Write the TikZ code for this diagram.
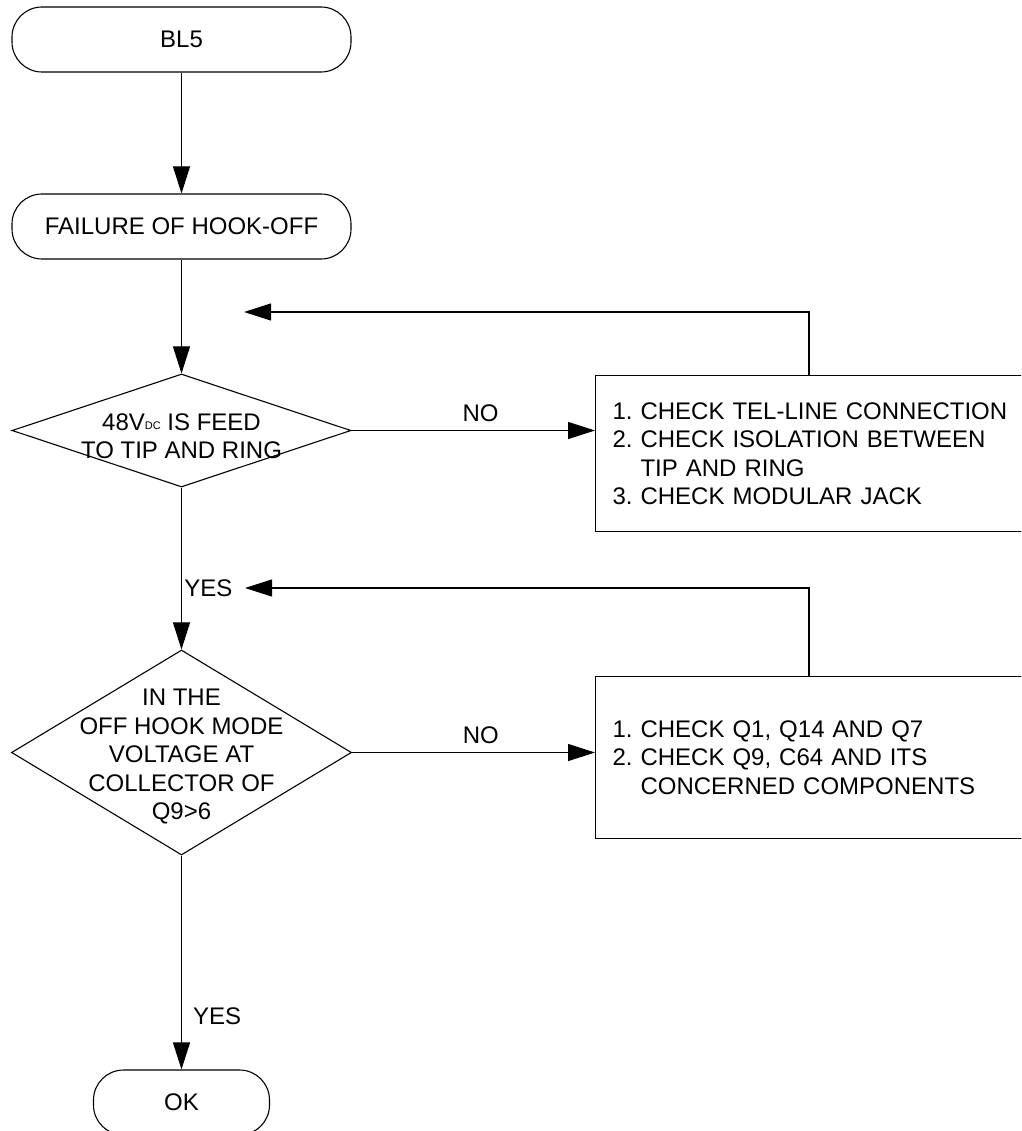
\documentclass[tikz,border=0pt]{standalone}
\usepackage{fontspec}
\setmainfont{Liberation Sans}
\frenchspacing
\usetikzlibrary{positioning,shapes.geometric,arrows.meta}

\begin{document}
\begin{tikzpicture}[x=1pt,y=-1pt,line width=1.1pt,
    every node/.style={font=\fontsize{24}{28.5}\selectfont},
    term/.style={draw,rounded corners=30pt,minimum width=339pt,minimum height=65pt,inner sep=0pt},
    decision/.style={draw,diamond,inner sep=0pt},
    checkbox/.style={draw,anchor=north west,align=left,text width=420pt,inner xsep=17pt,inner ysep=0pt},
    lbl/.style={inner sep=2pt},
    arr/.style={-{Triangle[length=27pt,width=17pt]}}]

    \useasboundingbox (0,0) rectangle (1021,1131);
    \clip (0,0) rectangle (1021,1131);

        % main column
        \node[term] (bl5) at (181.5,39.5) {BL5};
        \node[term] (fail) at (181.5,226.5) {FAILURE OF HOOK-OFF};
        \node[decision,minimum width=339pt,minimum height=113pt] (d1) at (181.5,430.5) {};
        \node[align=center] (q1) at (181.5,436) {48V\raisebox{1pt}{\fontsize{11}{11}\selectfont DC} IS FEED\\TO TIP AND RING};
        \node[decision,minimum width=340pt,minimum height=205pt] (d2) at (181.5,752.5) {};
        \node[align=center] (q2) at (181.5,757) {IN THE\\OFF HOOK MODE\\VOLTAGE AT\\COLLECTOR OF\\Q9>6};
        \node[term,minimum width=176pt] (ok) at (181.5,1102.5) {OK};

        % check boxes
        \node[checkbox,minimum height=156pt] (box1) at (595,375) {1. CHECK TEL-LINE CONNECTION\\2. CHECK ISOLATION BETWEEN\\\phantom{2. }TIP AND RING\\3. CHECK MODULAR JACK};
        \node[checkbox,minimum height=162pt] (box2) at (595,676) {1. CHECK Q1, Q14 AND Q7\\2. CHECK Q9, C64 AND ITS\\\phantom{2. }CONCERNED COMPONENTS};

        \coordinate (up1) at (809,312);
        \coordinate (tip1) at (244,312);
        \coordinate (up2) at (809,588);
        \coordinate (tip2) at (245,588);
        \node[lbl,left=10pt of tip2] (yes1) {YES};

        \draw[arr] (bl5) -- (fail);
        \draw[arr] (fail) -- (d1);
        \draw[arr] (d1) -- (d2);
        \draw[arr] (d2) -- node[lbl,right=9pt,pos=0.75] (yes2) {YES} (ok);
        \draw[arr] (d1.east) -- node[lbl,above=6pt,pos=0.53] (no1) {NO} (d1.east -| box1.west);
        \draw[arr] (d2.east) -- node[lbl,above=6pt,pos=0.53] (no2) {NO} (d2.east -| box2.west);
        \draw[arr] (box1.north -| up1) -- (up1) -- (tip1);
        \draw[arr] (box2.north -| up2) -- (up2) -- (tip2);

\end{tikzpicture}
\end{document}
